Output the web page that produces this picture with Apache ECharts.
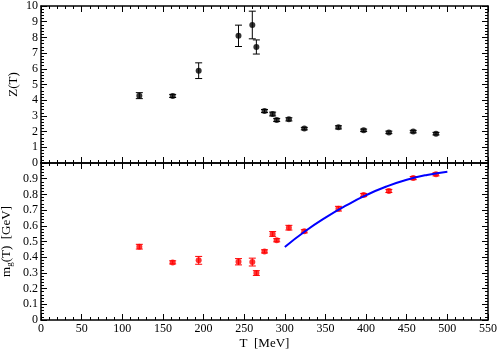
<!DOCTYPE html>
<html>
<head>
<meta charset="utf-8">
<style>
  html, body { margin: 0; padding: 0; background: #fff; }
  #main { width: 498px; height: 350px; }
</style>
<script src="https://cdn.jsdelivr.net/npm/echarts@6/dist/echarts.min.js"></script>
</head>
<body>
<div id="main"></div>
<script>
// temperatures (MeV)
var temps = [121, 162, 194, 243, 260, 265, 275, 285, 290, 305, 324, 366, 397, 428, 458, 486];
// Z(T) and errors
var zVals = [4.29, 4.27, 5.88, 8.1, 8.79, 7.39, 3.31, 3.12, 2.74, 2.78, 2.19, 2.27, 2.08, 1.95, 2.0, 1.87];
var zErr = [0.19, 0.1, 0.5, 0.68, 0.88, 0.45, 0.1, 0.12, 0.1, 0.1, 0.08, 0.1, 0.08, 0.08, 0.08, 0.08];
// m_g(T) [GeV] and errors
var mgVals = [0.467, 0.367, 0.38, 0.371, 0.369, 0.299, 0.437, 0.548, 0.508, 0.588, 0.565, 0.709, 0.796, 0.822, 0.904, 0.928];
var mgErr = [0.015, 0.01, 0.025, 0.02, 0.025, 0.015, 0.01, 0.015, 0.01, 0.015, 0.01, 0.015, 0.01, 0.01, 0.01, 0.01];
// fit curve
var fitT = [300, 325, 350, 375, 400, 425, 450, 475, 500];
var fitMg = [0.465, 0.565, 0.652, 0.728, 0.795, 0.85, 0.893, 0.924, 0.945];

var FONT = "Liberation Serif";
var frameLine = { color: "#000", width: 1.5 };

function xAx(grid, pos, labels) {
  return {
    type: "value", gridIndex: grid, position: pos, min: 0, max: 550, interval: 50,
    axisLine: { show: true, onZero: false, lineStyle: frameLine },
    axisTick: { show: true, inside: true, length: 6, lineStyle: { color: "#000" } },
    minorTick: { show: true, splitNumber: 5, length: 3, lineStyle: { color: "#000" } },
    splitLine: { show: false },
    axisLabel: { show: labels, color: "#000", fontFamily: FONT, fontSize: 12, margin: 3 }
  };
}
function yAx(grid, pos, max, interval, labels, extra) {
  var a = {
    type: "value", gridIndex: grid, position: pos, min: 0, max: max, interval: interval,
    axisLine: { show: true, onZero: false, lineStyle: frameLine },
    axisTick: { show: true, inside: true, length: 6, lineStyle: { color: "#000" } },
    minorTick: { show: true, splitNumber: 5, length: 3, lineStyle: { color: "#000" } },
    splitLine: { show: false },
    axisLabel: { show: labels, color: "#000", fontFamily: FONT, fontSize: 12, margin: 3 }
  };
  return Object.assign(a, extra || {});
}

function errData(vals, errs) {
  return temps.map(function (t, i) { return [t, vals[i], vals[i] - errs[i], vals[i] + errs[i]]; });
}
function errRender(color) {
  return function (params, api) {
    var x = api.value(0);
    var lo = api.coord([x, api.value(2)]);
    var hi = api.coord([x, api.value(3)]);
    var w = 3.5;
    var st = { stroke: color, lineWidth: 1 };
    return {
      type: "group",
      children: [
        { type: "line", shape: { x1: lo[0], y1: lo[1], x2: hi[0], y2: hi[1] }, style: st },
        { type: "line", shape: { x1: lo[0] - w, y1: lo[1], x2: lo[0] + w, y2: lo[1] }, style: st },
        { type: "line", shape: { x1: hi[0] - w, y1: hi[1], x2: hi[0] + w, y2: hi[1] }, style: st }
      ]
    };
  };
}

var chart = echarts.init(document.getElementById("main"));
chart.setOption({
  animation: false,
  textStyle: { fontFamily: FONT },
  grid: [
    { left: 41, right: 10, top: 6, height: 157, containLabel: false, outerBoundsMode: "none" },
    { left: 41, right: 10, top: 163, height: 157, containLabel: false, outerBoundsMode: "none" }
  ],
  xAxis: [
    xAx(0, "bottom", false),
    xAx(0, "top", false),
    Object.assign(xAx(1, "bottom", true), {
      name: "T  [MeV]", nameLocation: "middle", nameGap: 17, nameMoveOverlap: false,
      nameTextStyle: { color: "#000", fontFamily: FONT, fontSize: 13 }
    }),
    xAx(1, "top", false)
  ],
  yAxis: [
    yAx(0, "left", 10, 1, true, {
      name: "Z(T)", nameLocation: "middle", nameGap: 21, nameMoveOverlap: false,
      nameTextStyle: { color: "#000", fontFamily: FONT, fontSize: 13 }
    }),
    yAx(0, "right", 10, 1, false),
    yAx(1, "left", 1, 0.1, true, {
      name: "m{s|g}(T)  [GeV]", nameLocation: "middle", nameGap: 27, nameMoveOverlap: false,
      nameTextStyle: {
        color: "#000", fontFamily: FONT, fontSize: 13,
        rich: { s: { fontSize: 9, verticalAlign: "bottom", padding: [6, 0, 0, 0], fontFamily: FONT, color: "#000" } }
      },
      axisLabel: { show: true, showMaxLabel: false, color: "#000", fontFamily: FONT, fontSize: 12, margin: 3 }
    }),
    yAx(1, "right", 1, 0.1, false)
  ],
  series: [
    {
      type: "custom", xAxisIndex: 0, yAxisIndex: 0,
      data: errData(zVals, zErr), renderItem: errRender("#000"), z: 2
    },
    {
      type: "scatter", xAxisIndex: 0, yAxisIndex: 0, symbolSize: 6,
      itemStyle: { color: "#000" },
      data: temps.map(function (t, i) { return [t, zVals[i]]; }), z: 3
    },
    {
      type: "custom", xAxisIndex: 2, yAxisIndex: 2,
      data: errData(mgVals, mgErr), renderItem: errRender("#ff0000"), z: 2
    },
    {
      type: "scatter", xAxisIndex: 2, yAxisIndex: 2, symbolSize: 6,
      itemStyle: { color: "#ff0000" },
      data: temps.map(function (t, i) { return [t, mgVals[i]]; }), z: 3
    },
    {
      type: "line", xAxisIndex: 2, yAxisIndex: 2, smooth: true, showSymbol: false,
      lineStyle: { color: "#0000ff", width: 2 },
      data: fitT.map(function (t, i) { return [t, fitMg[i]]; }), z: 4
    }
  ]
});
</script>
</body>
</html>
